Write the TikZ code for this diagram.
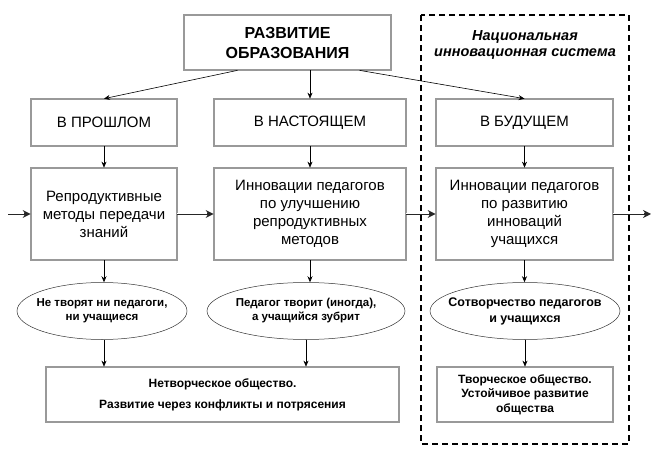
\documentclass[tikz,border=0pt]{standalone}
\usepackage{fontspec}
\setmainfont{Liberation Sans}
\usetikzlibrary{arrows.meta}
\usetikzlibrary{shapes}

\begin{document}
\begin{tikzpicture}[x=1pt,y=-1pt,>={Stealth[length=6pt,width=5pt]},
		box/.style={draw=black!75, double=black!40, double distance=1.2pt, line width=0.7pt, inner sep=0pt, align=center, font=\fontsize{15}{18}\selectfont},
		oval/.style={ellipse, draw=black!80, line width=0.5pt, inner xsep=-20pt, inner ysep=0pt, align=center, font=\fontsize{11.5}{14}\selectfont\bfseries},
		flow/.style={->, line width=0.6pt},
		pipe/.style={draw=black!85, line width=2.6pt, -{Stealth[length=8pt,width=8pt]}, postaction={draw=white, line width=1pt, shorten >=7pt, -}}]
					\useasboundingbox (0,0) rectangle (656,457);

					% national innovation system
					\draw [dash pattern=on 6pt off 4pt, line width=1.4pt] (421,15) rectangle (629,444);
					\node [align=center, font=\fontsize{14.5}{16.5}\selectfont\bfseries\itshape] (nis) at (525,45) {Национальная\\инновационная система};

					\node [box, minimum width=207, minimum height=55, font=\fontsize{16}{20}\selectfont\bfseries] (title) at (287.5,42.5) {РАЗВИТИЕ\\ОБРАЗОВАНИЯ};

					\node [box, minimum width=146, minimum height=47] (past) at (104,122.5) {В ПРОШЛОМ};
					\node [box, minimum width=192, minimum height=47] (present) at (310,122.5) {В НАСТОЯЩЕМ};
					\node [box, minimum width=177, minimum height=47] (future) at (524.5,122.5) {В БУДУЩЕМ};

					\node [box, minimum width=146, minimum height=92] (meth) at (104,214) {Репродуктивные\\методы передачи\\знаний};
					\node [box, minimum width=192, minimum height=92] (innov) at (310,214) {Инновации педагогов\\по улучшению\\репродуктивных\\методов};
					\node [box, minimum width=177, minimum height=92] (devel) at (524.5,214) {Инновации педагогов\\по развитию\\инноваций\\учащихся};

					\node [oval, minimum width=170, minimum height=57] (nocre) at (102,311) {Не творят ни педагоги,\\ни учащиеся};
					\node [oval, minimum width=198, minimum height=57] (somecre) at (306,311) {Педагог творит (иногда),\\а учащийся зубрит};
					\node [oval, minimum width=190, minimum height=57, font=\fontsize{12.5}{16}\selectfont\bfseries] (cocre) at (525,311) {Сотворчество педагогов\\и учащихся};

					\node [box, minimum width=353, minimum height=55, font=\fontsize{12}{21}\selectfont\bfseries] (soc) at (222.5,394.5) {Нетворческое общество.\\Развитие через конфликты и потрясения};
					\node [box, minimum width=176, minimum height=55, font=\fontsize{12}{14.5}\selectfont\bfseries] (sust) at (525,394.5) {Творческое общество.\\Устойчивое развитие\\общества};

					\coordinate (inpt) at (8,214);
					\coordinate (outp) at (651,214);

					\draw [flow] ([xshift=-50]title.south) to (past.north);
					\draw [flow] (title.south -| present.north) to (present.north);
					\draw [flow] ([xshift=72]title.south) to (future.north);

					\draw [flow] (past) to (meth);
					\draw [flow] (present) to (innov);
					\draw [flow] (future) to (devel);

					\draw [pipe] (inpt) to (meth.west);
					\draw [pipe] (meth) to (innov);
					\draw [pipe] (innov) to (devel);
					\draw [pipe] (devel) to (outp);

					\draw [flow] (meth.south) to (meth.south |- nocre.north);
					\draw [flow] (innov.south) to (innov.south |- somecre.north);
					\draw [flow] (devel.south) to (devel.south |- cocre.north);

					\draw [flow] (nocre.south -| meth.south) to (meth.south |- soc.north);
					\draw [flow] (somecre.south) to (somecre.south |- soc.north);
					\draw [flow] (cocre) to (sust);
				\end{tikzpicture}
\end{document}
